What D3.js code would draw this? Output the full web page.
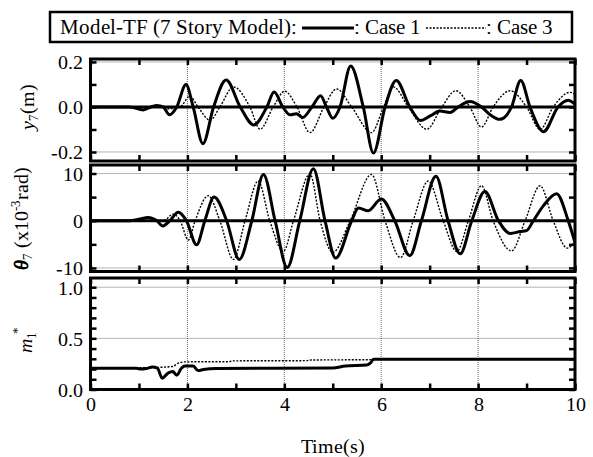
<!DOCTYPE html>
<html>
<head>
<meta charset="utf-8">
<script src="https://cdn.jsdelivr.net/npm/d3@7"></script>
<style>
  @font-face {
    font-family: "ChartSerif";
    src: local("Liberation Serif"), local("LiberationSerif"), local("LiberationSerif-Regular"), local("Times New Roman");
    font-style: normal;
  }
  @font-face {
    font-family: "ChartSerif";
    src: local("Liberation Serif Italic"), local("LiberationSerif-Italic");
    font-style: italic;
  }
  html, body { margin: 0; padding: 0; background: #fff; }
  #chart text, #chart tspan { font-family: "ChartSerif", "Liberation Serif", serif !important; }
</style>
</head>
<body>
<svg id="chart" width="593" height="457"></svg>
<script>
// ---- data: time histories of the 7-story model (Case 1 solid, Case 3 dotted) ----
const timeTicks = [0, 2, 4, 6, 8, 10];

// top displacement y7 (m)
const y7Case1 = [[0,0],[0.8,0],[1.09,-0.013],[1.25,0],[1.37,0.007],[1.5,0],[1.63,-0.035],[1.78,0],[1.97,0.1],[2.12,0],[2.32,-0.163],[2.54,0],[2.8,0.12],[3.09,0],[3.37,-0.08],[3.64,0],[3.79,0.066],[3.97,0],[4.12,-0.035],[4.25,-0.03],[4.38,-0.047],[4.57,0],[4.75,0.05],[4.87,0],[5.0,-0.05],[5.15,0],[5.37,0.182],[5.63,0],[5.84,-0.205],[6.08,0],[6.31,0.118],[6.59,0],[6.81,-0.06],[7.01,-0.04],[7.21,-0.018],[7.42,-0.025],[7.59,0],[7.83,0.024],[8.07,0],[8.24,-0.033],[8.45,-0.055],[8.69,0],[8.88,0.118],[9.07,0],[9.35,-0.11],[9.65,0],[9.86,0.03],[10,0.012]];
const y7Case3 = [[0,0],[1.4,0],[1.6,-0.008],[1.85,0],[2.05,0.048],[2.22,0],[2.47,-0.059],[2.67,0],[2.95,0.089],[3.29,0],[3.5,-0.099],[3.77,0],[4.01,0.07],[4.26,0],[4.53,-0.114],[4.82,0],[5.08,0.08],[5.39,0],[5.8,-0.114],[6.05,0],[6.25,0.089],[6.56,0],[6.94,-0.099],[7.25,0],[7.54,0.072],[7.83,0],[8.07,-0.089],[8.31,0],[8.66,0.072],[9.0,0],[9.28,-0.1],[9.55,0],[9.9,0.065],[10,0.056]];

// top rotation theta7 (x10^-3 rad)
const th7Case1 = [[0,0],[0.8,0],[1.0,0.3],[1.19,0.7],[1.37,0],[1.49,-1.1],[1.64,0],[1.81,1.8],[1.98,0],[2.19,-5.1],[2.36,0],[2.55,5.0],[2.81,0],[3.07,-8.2],[3.33,0],[3.57,9.8],[3.81,0],[4.06,-9.9],[4.32,0],[4.6,11.0],[4.84,0],[5.06,-7.9],[5.39,0],[5.53,2.7],[5.73,2.1],[6.0,4.6],[6.28,0],[6.59,-7.4],[6.83,0],[7.13,9.4],[7.38,0],[7.63,-7.0],[7.87,0],[8.14,6.2],[8.42,0],[8.66,-2.7],[8.87,-2.3],[9.0,-2.1],[9.14,0],[9.35,3.2],[9.62,5.7],[9.86,0],[10,-4.6]];
const th7Case3 = [[0,0],[1.5,0],[1.71,1.4],[1.85,0],[2.02,-4.1],[2.16,0],[2.43,5.3],[2.67,0],[2.95,-8.2],[3.19,0],[3.46,8.4],[3.7,0],[3.98,-6.5],[4.19,0],[4.53,9.9],[4.74,0],[5.0,-6.7],[5.36,0],[5.8,9.8],[6.08,0],[6.4,-7.8],[6.66,0],[6.97,8.4],[7.28,0],[7.56,-6.5],[7.8,0],[8.07,7.4],[8.31,0],[8.69,-6.4],[8.97,0],[9.28,7.4],[9.55,0],[9.84,-5.8],[10,-4.3]];

// normalized mass m1*
const m1Case1 = [[0,0.207],[0.95,0.207],[1.05,0.2],[1.15,0.205],[1.28,0.22],[1.38,0.21],[1.48,0.11],[1.6,0.16],[1.7,0.175],[1.78,0.14],[1.88,0.21],[1.95,0.23],[2.12,0.23],[2.22,0.185],[2.33,0.195],[2.6,0.205],[5.0,0.21],[5.26,0.23],[5.7,0.24],[5.78,0.26],[5.84,0.295],[10,0.295]];
const m1Case3 = [[0,0.207],[1.3,0.215],[1.7,0.225],[1.78,0.25],[1.95,0.27],[2.85,0.272],[2.95,0.28],[4.45,0.282],[4.55,0.288],[5.8,0.292],[5.84,0.295],[10,0.295]];

const y7Labels = ["-0.2", "0.0", "0.2"];
const th7Labels = ["-10", "0", "10"];
const m1Labels = ["0.0", "0.5", "1.0"];

// ---- layout ----
const FONT = '"ChartSerif", "Liberation Serif", serif';
const svg = d3.select("#chart").attr("font-family", FONT);
const serif = sel => sel.attr("font-family", FONT);
const left = 90.5, right = 575;
const x = d3.scaleLinear().domain([0, 10]).range([left, right]);

const panels = [
  { domain: [-0.24, 0.213], range: [161, 59], labelVals: [-0.2, 0, 0.2], labels: y7Labels,
    minor: d3.range(-0.2, 0.201, 0.1), grid: [-0.2, 0.2], zero: true, s1: y7Case1, s3: y7Case3 },
  { domain: [-10.75, 11.8], range: [271.5, 165], labelVals: [-10, 0, 10], labels: th7Labels,
    minor: d3.range(-10, 10.01, 5), grid: [-10, 10], zero: true, s1: th7Case1, s3: th7Case3 },
  { domain: [0, 1.09], range: [389.5, 278], labelVals: [0, 0.5, 1.0], labels: m1Labels,
    minor: d3.range(0, 1.001, 0.1), grid: [0.5, 1.0], zero: false, s1: m1Case1, s3: m1Case3 }
];

const fontSize = 20;

panels.forEach((p, i) => {
  const y = d3.scaleLinear().domain(p.domain).range(p.range);
  const g = svg.append("g");
  const top = p.range[1], bottom = p.range[0];

  // clip to frame
  const clipId = "clip" + i;
  svg.append("clipPath").attr("id", clipId)
    .append("rect").attr("x", left).attr("y", top).attr("width", right - left).attr("height", bottom - top);

  // dotted grid
  const grid = g.append("g").attr("stroke", "#444").attr("stroke-width", 0.8).attr("stroke-dasharray", "1,1");
  grid.selectAll("line.v").data([2, 4, 6, 8]).join("line")
    .attr("x1", d => x(d)).attr("x2", d => x(d)).attr("y1", top).attr("y2", bottom);
  grid.selectAll("line.h").data(p.grid).join("line")
    .attr("x1", left).attr("x2", right).attr("y1", d => y(d)).attr("y2", d => y(d));

  // zero line
  if (p.zero) {
    g.append("line").attr("x1", left).attr("x2", right)
      .attr("y1", y(0)).attr("y2", y(0)).attr("stroke", "#000").attr("stroke-width", 3);
  }

  const line = d3.line().x(d => x(d[0])).y(d => y(d[1])).curve(d3.curveMonotoneX);
  const plot = g.append("g").attr("clip-path", `url(#${clipId})`);
  plot.append("path").datum(p.s3).attr("d", line).attr("fill", "none")
    .attr("stroke", "#000").attr("stroke-width", 1.4).attr("stroke-dasharray", "2,1.5");
  plot.append("path").datum(p.s1).attr("d", line).attr("fill", "none")
    .attr("stroke", "#000").attr("stroke-width", 3).attr("stroke-linejoin", "round");

  // inward ticks on all four sides
  const tk = 6;
  const tickStyle = sel => {
    sel.select(".domain").remove();
    sel.selectAll(".tick line").attr("stroke", "#000").attr("stroke-width", 2.5);
    sel.selectAll(".tick text").remove();
  };
  g.append("g").attr("transform", `translate(0,${bottom})`)
    .call(d3.axisBottom(x).tickValues(d3.range(0, 11, 1)).tickSize(-tk)).call(tickStyle);
  g.append("g").attr("transform", `translate(0,${top})`)
    .call(d3.axisTop(x).tickValues(d3.range(0, 11, 1)).tickSize(-tk)).call(tickStyle);
  g.append("g").attr("transform", `translate(${left},0)`)
    .call(d3.axisLeft(y).tickValues(p.minor).tickSize(-tk)).call(tickStyle);
  g.append("g").attr("transform", `translate(${right},0)`)
    .call(d3.axisRight(y).tickValues(p.minor).tickSize(-tk)).call(tickStyle);

  // y tick labels
  const ya = g.append("g").attr("transform", `translate(${left},0)`)
    .call(d3.axisLeft(y).tickValues(p.labelVals).tickSize(0).tickPadding(8)
      .tickFormat((d, k) => p.labels[k]));
  ya.select(".domain").remove();
  ya.call(serif).attr("font-size", fontSize);
  ya.selectAll(".tick text").call(serif).attr("font-size", fontSize)
    .attr("fill", "#000").attr("dy", "0.34em");

  // frame
  g.append("rect").attr("x", left).attr("y", top).attr("width", right - left).attr("height", bottom - top)
    .attr("fill", "none").attr("stroke", "#000").attr("stroke-width", 3);

  // x tick labels on the bottom panel
  if (i === 2) {
    const xa = g.append("g").attr("transform", `translate(0,${bottom})`)
      .call(d3.axisBottom(x).tickValues(timeTicks).tickSize(0).tickPadding(7).tickFormat(d3.format("d")));
    xa.select(".domain").remove();
    xa.call(serif).attr("font-size", fontSize);
    xa.selectAll(".tick text").call(serif).attr("font-size", fontSize).attr("fill", "#000");
  }
});

// ---- axis titles ----
function vlabel(cx, cy, build) {
  const t = svg.append("text").attr("transform", `translate(${cx},${cy}) rotate(-90)`)
    .attr("text-anchor", "middle").call(serif).attr("font-size", fontSize);
  build(t);
}
const small = 13;
vlabel(34, 107, t => {
  t.append("tspan").attr("font-style", "italic").text("y");
  t.append("tspan").attr("font-size", small).attr("dy", 4).text("7");
  t.append("tspan").attr("dy", -4).text("(m)");
});
vlabel(28, 218, t => {
  t.append("tspan").attr("font-style", "italic").attr("font-weight", "bold").text("θ");
  t.append("tspan").attr("font-size", small).attr("dy", 4).text("7");
  t.append("tspan").attr("dy", -4).text(" (x10");
  t.append("tspan").attr("font-size", small).attr("dy", -8).text("-3");
  t.append("tspan").attr("dy", 8).text("rad)");
});
vlabel(32, 340, t => {
  t.append("tspan").attr("font-style", "italic").text("m");
  t.append("tspan").attr("font-size", small).attr("dy", 4).text("1");
  t.append("tspan").attr("font-size", small).attr("dy", -14).attr("dx", -2).text("*");
});

svg.append("text").attr("x", (left + right) / 2).attr("y", 453).attr("text-anchor", "middle")
  .call(serif).attr("font-size", fontSize).text("Time(s)");

// ---- legend ----
const lg = svg.append("g");
lg.append("rect").attr("x", 50).attr("y", 12).attr("width", 522).attr("height", 30)
  .attr("fill", "#fff").attr("stroke", "#000").attr("stroke-width", 2.5);
const ly = 34;
const lfs = 21;
const legendItems = [
  { text: "Model-TF (7 Story Model):", line: null },
  { text: ": Case 1", line: { len: 52, width: 3, dash: null } },
  { text: ": Case 3", line: { len: 60, width: 1.3, dash: "2,1.5" } }
];
let cx = 60;
legendItems.forEach((it, k) => {
  if (it.line) {
    lg.append("line").attr("x1", cx).attr("x2", cx + it.line.len).attr("y1", ly - 6).attr("y2", ly - 6)
      .attr("stroke", "#000").attr("stroke-width", it.line.width).attr("stroke-dasharray", it.line.dash);
    cx += it.line.len;
  }
  const t = lg.append("text").attr("x", cx).attr("y", ly).call(serif).attr("font-size", lfs).text(it.text);
  cx += t.node().getComputedTextLength() + 5;
});
</script>
</body>
</html>
